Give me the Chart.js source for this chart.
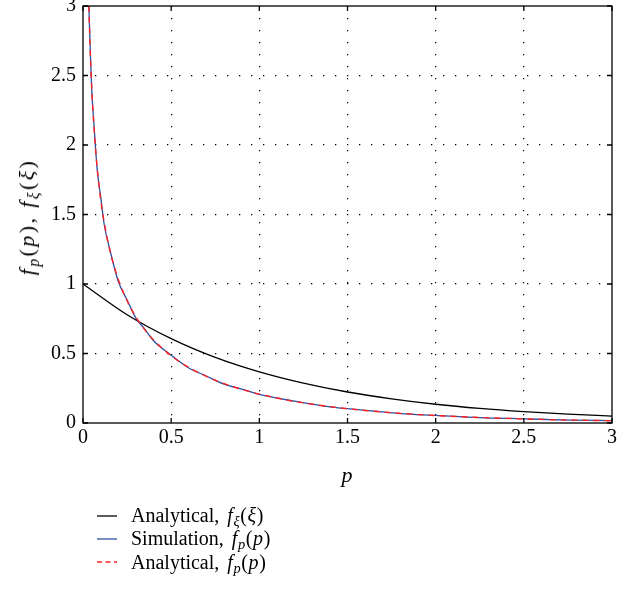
<!DOCTYPE html>
<html>
<head>
<meta charset="utf-8">
<script src="https://cdn.jsdelivr.net/npm/chart.js@4/dist/chart.umd.min.js"></script>
<style>
  body { margin: 0; background: #fff; }
  #wrap { position: relative; width: 635px; height: 590px; font-family: "Liberation Serif", "DejaVu Serif", serif; color: #000; }
  #chart { position: absolute; left: 0; top: 0; }
  .title { position: absolute; white-space: nowrap; font-size: 22px; letter-spacing: 2.4px; }
  #yTitle { left: 27px; top: 217px; transform: translate(-50%, -50%) rotate(-90deg); }
  #xTitle { left: 347px; top: 475px; transform: translate(-50%, -50%); letter-spacing: 0; }
  #legend { position: absolute; left: 97px; top: 504px; font-size: 20px; }
  .row { display: flex; align-items: center; height: 23.3px; white-space: nowrap; }
  .row svg { margin-right: 14px; }
  .m { letter-spacing: 0.6px; margin-left: 8px; }
  sub { font-size: 72%; vertical-align: -0.3em; line-height: 0; }
</style>
</head>
<body>
<div id="wrap">
  <canvas id="chart" width="635" height="590"></canvas>
  <div class="title" id="yTitle"><i>f</i><sub><i>p</i></sub>(<i>p</i>), <i>f</i><sub><i>ξ</i></sub>(<i>ξ</i>)</div>
  <div class="title" id="xTitle"><i>p</i></div>
  <div id="legend">
    <div class="row"><svg width="20" height="4"><line x1="0" y1="2" x2="20" y2="2" stroke="#000" stroke-width="1.3"/></svg>Analytical,<span class="m"><i>f</i><sub><i>ξ</i></sub>(<i>ξ</i>)</span></div>
    <div class="row"><svg width="20" height="4"><line x1="0" y1="2" x2="20" y2="2" stroke="#2f4fa0" stroke-width="1.3"/></svg>Simulation,<span class="m"><i>f</i><sub><i>p</i></sub>(<i>p</i>)</span></div>
    <div class="row"><svg width="20" height="4"><line x1="0" y1="2" x2="20" y2="2" stroke="#ff2020" stroke-width="1.3" stroke-dasharray="5 3.5"/></svg>Analytical,<span class="m"><i>f</i><sub><i>p</i></sub>(<i>p</i>)</span></div>
  </div>
</div>
<script>
// values
const xiValues = [0, 0.25, 0.5, 0.75, 1, 1.25, 1.5, 1.75, 2, 2.25, 2.5, 2.75, 3];
const fxiAnalytical = [1, 0.779, 0.607, 0.472, 0.368, 0.287, 0.223, 0.174, 0.135, 0.105, 0.082, 0.064, 0.050];

const pValues = [0.03, 0.04, 0.05, 0.06, 0.08, 0.1, 0.12, 0.15, 0.2, 0.25, 0.3, 0.35, 0.4, 0.5,
  0.6, 0.7, 0.8, 0.9, 1.0, 1.2, 1.4, 1.6, 1.8, 2.0, 2.25, 2.5, 2.75, 3.0];
const fpAnalytical = [3.16, 2.71, 2.40, 2.17, 1.84, 1.61, 1.445, 1.254, 1.033, 0.879, 0.763, 0.672, 0.598, 0.484,
  0.400, 0.335, 0.283, 0.242, 0.208, 0.155, 0.118, 0.090, 0.0695, 0.054, 0.0396, 0.0293, 0.0217, 0.0162];
const fpSimulation = [3.13, 2.73, 2.38, 2.19, 1.83, 1.63, 1.43, 1.26, 1.02, 0.885, 0.755, 0.676, 0.592, 0.488,
  0.396, 0.338, 0.280, 0.244, 0.206, 0.157, 0.116, 0.091, 0.068, 0.055, 0.039, 0.030, 0.021, 0.017];

const xTicks = [0, 0.5, 1, 1.5, 2, 2.5, 3];
const xTickLabels = ['0', '0.5', '1', '1.5', '2', '2.5', '3'];
const yTicks = [0, 0.5, 1, 1.5, 2, 2.5, 3];
const yTickLabels = ['0', '0.5', '1', '1.5', '2', '2.5', '3'];

const toPoints = (xs, ys) => xs.map((x, i) => ({ x: x, y: ys[i] }));

// box round the plot with small inward tick marks on all four sides
const frame = {
  id: 'frame',
  afterDatasetsDraw(chart) {
    const { ctx, chartArea: a, scales: { x, y } } = chart;
    ctx.save();
    ctx.strokeStyle = '#000';
    ctx.lineWidth = 1.3;
    ctx.strokeRect(a.left, a.top, a.right - a.left, a.bottom - a.top);
    ctx.beginPath();
    xTicks.forEach(v => {
      const px = x.getPixelForValue(v);
      ctx.moveTo(px, a.bottom); ctx.lineTo(px, a.bottom - 5);
      ctx.moveTo(px, a.top); ctx.lineTo(px, a.top + 5);
    });
    yTicks.forEach(v => {
      const py = y.getPixelForValue(v);
      ctx.moveTo(a.left, py); ctx.lineTo(a.left + 5, py);
      ctx.moveTo(a.right, py); ctx.lineTo(a.right - 5, py);
    });
    ctx.stroke();
    ctx.restore();
  }
};

const gridColor = c => (c.tick && (c.tick.value === 0 || c.tick.value === 3)) ? 'rgba(0,0,0,0)' : '#000';
const tickFont = { family: '"Liberation Serif", serif', size: 20 };

new Chart(document.getElementById('chart').getContext('2d'), {
  type: 'line',
  data: {
    datasets: [
      {
        label: 'Analytical, f_p(p)',
        data: toPoints(pValues, fpAnalytical),
        borderColor: '#ff2020',
        borderWidth: 1.4,
        borderDash: [6, 5],
        pointRadius: 0,
        cubicInterpolationMode: 'monotone',
        order: 0
      },
      {
        label: 'Simulation, f_p(p)',
        data: toPoints(pValues, fpSimulation),
        borderColor: '#2f4fa0',
        borderWidth: 1.3,
        pointRadius: 0,
        cubicInterpolationMode: 'monotone',
        order: 1
      },
      {
        label: 'Analytical, f_xi(xi)',
        data: toPoints(xiValues, fxiAnalytical),
        borderColor: '#000',
        borderWidth: 1.3,
        pointRadius: 0,
        cubicInterpolationMode: 'monotone',
        order: 2
      }
    ]
  },
  options: {
    responsive: false,
    animation: false,
    layout: { padding: { top: 6, right: 23, bottom: 137, left: 0 } },
    plugins: { legend: { display: false }, tooltip: { enabled: false } },
    scales: {
      x: {
        type: 'linear',
        min: 0,
        max: 3,
        afterBuildTicks: s => { s.ticks = xTicks.map(v => ({ value: v })); },
        afterFit: s => { s.height = 30; s.paddingLeft = 0; s.paddingRight = 0; },
        ticks: {
          color: '#000',
          font: tickFont,
          padding: 3,
          maxRotation: 0,
          callback: (v) => xTickLabels[xTicks.indexOf(v)]
        },
        grid: { color: gridColor, lineWidth: 1.2, drawTicks: false },
        border: { display: false, dash: [1.3, 10.7] }
      },
      y: {
        type: 'linear',
        min: 0,
        max: 3,
        afterBuildTicks: s => { s.ticks = yTicks.map(v => ({ value: v })); },
        afterFit: s => { s.width = 83; s.paddingTop = 0; s.paddingBottom = 0; },
        ticks: {
          color: '#000',
          font: tickFont,
          padding: 7,
          callback: (v) => yTickLabels[yTicks.indexOf(v)]
        },
        grid: { color: gridColor, lineWidth: 1.2, drawTicks: false },
        border: { display: false, dash: [1.3, 10.7] }
      }
    }
  },
  plugins: [frame]
});
</script>
</body>
</html>
